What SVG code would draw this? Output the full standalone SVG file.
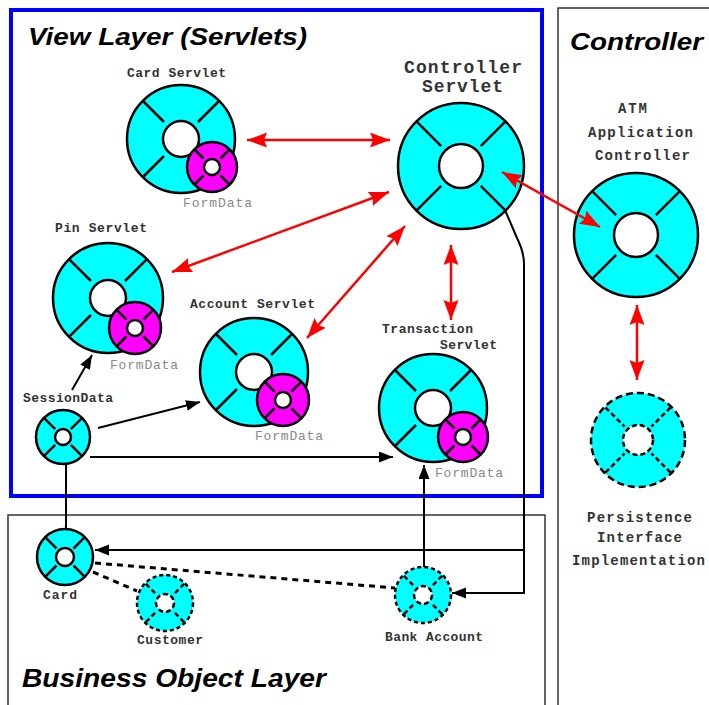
<svg xmlns="http://www.w3.org/2000/svg" width="709" height="705" viewBox="0 0 709 705">
<style>
.bg{fill:#ffffff}
.title{font-family:"Liberation Sans",Arial,sans-serif;font-weight:bold;font-style:italic;fill:#000}
.lbl{font-family:"Liberation Mono","Courier New",monospace;font-size:13px;font-weight:bold;fill:#333}
.big{font-size:18px;fill:#333}
.mid{font-size:14px}
.fd{font-family:"Liberation Mono","Courier New",monospace;font-size:13px;fill:#888}
.cy{fill:#00ffff;stroke:#000;stroke-width:2.5}
.mg{fill:#ff00ff;stroke:#000;stroke-width:2.5}
.hole{fill:#fff;stroke:#000;stroke-width:2.5}
.sp{fill:none;stroke:#000;stroke-width:2.5}
.dcy{fill:#00ffff;stroke:#000;stroke-width:2.5;stroke-dasharray:7 4}
.dhole{fill:#fff;stroke:#000;stroke-width:2.5;stroke-dasharray:5 3}
.dsp{fill:none;stroke:#000;stroke-width:2.5;stroke-dasharray:5 3}
.scy{fill:#00ffff;stroke:#000;stroke-width:2.5;stroke-dasharray:4 3}
.red{fill:none;stroke:#ff0000;stroke-width:2.5;marker-start:url(#ra);marker-end:url(#ra)}
.blk{fill:none;stroke:#000;stroke-width:2}
.dsh{fill:none;stroke:#000;stroke-width:3;stroke-dasharray:6 5}
</style>
<defs>
<marker id="ra" markerUnits="userSpaceOnUse" markerWidth="22" markerHeight="16" refX="20" refY="7.5" orient="auto-start-reverse">
<path d="M0,0 L20,7.5 L0,15 L3,7.5 z" fill="#ff0000"/>
</marker>
<marker id="ba" markerUnits="userSpaceOnUse" markerWidth="16" markerHeight="12" refX="14" refY="5.5" orient="auto">
<path d="M0,0 L14,5.5 L0,11 z" fill="#000"/>
</marker>
</defs>
<rect class="bg" x="0" y="0" width="709" height="705"/>

<g id="layers">
<rect x="11" y="10" width="531" height="486" fill="none" stroke="#0000ff" stroke-width="4"/>
<rect x="558" y="8" width="200" height="720" fill="none" stroke="#333" stroke-width="1.5"/>
<rect x="8" y="515" width="537" height="220" fill="none" stroke="#333" stroke-width="1.5"/>
<text class="title" x="28" y="45" font-size="24" textLength="279" lengthAdjust="spacingAndGlyphs">View Layer (Servlets)</text>
<text class="title" x="570" y="50" font-size="24" textLength="133" lengthAdjust="spacingAndGlyphs">Controller</text>
<text class="title" x="22" y="687" font-size="25" textLength="304" lengthAdjust="spacingAndGlyphs">Business Object Layer</text>
</g>

<g id="card-servlet">
<circle class="cy" cx="181" cy="139" r="54"/>
<circle class="hole" cx="181" cy="139" r="18"/>
<path class="sp" d="M143.5,101.5L164,122M218.5,101.5L198,122M143.5,176.5L164,156M218.5,176.5L198,156"/>
<circle class="mg" cx="212" cy="167" r="25"/>
<circle class="hole" cx="212" cy="167" r="8"/>
<path class="sp" d="M195,150L203.5,158.5M229,150L220.5,158.5M195,184L203.5,175.5M229,184L220.5,175.5"/>
<text class="lbl" x="127" y="77" textLength="99">Card Servlet</text>
<text class="fd" x="183" y="207" textLength="69">FormData</text>
</g>

<g id="controller-servlet">
<circle class="cy" cx="461" cy="166" r="63"/>
<circle class="hole" cx="461" cy="166" r="22"/>
<path class="sp" d="M417.2,122.2L441.2,146.2M504.8,122.2L480.8,146.2M417.2,209.8L441.2,185.8M504.8,209.8L480.8,185.8"/>
<text class="lbl big" x="404" y="73" textLength="118">Controller</text>
<text class="lbl big" x="422" y="92" textLength="81">Servlet</text>
</g>

<g id="pin-servlet">
<circle class="cy" cx="108" cy="298" r="55"/>
<circle class="hole" cx="108" cy="298" r="18"/>
<path class="sp" d="M69.8,259.8L91,281M146.2,259.8L125,281M69.8,336.2L91,315M146.2,336.2L125,315"/>
<circle class="mg" cx="135" cy="328" r="26"/>
<circle class="hole" cx="135" cy="328" r="8"/>
<path class="sp" d="M117.3,310.3L126.5,319.5M152.7,310.3L143.5,319.5M117.3,345.7L126.5,336.5M152.7,345.7L143.5,336.5"/>
<text class="lbl" x="55" y="232" textLength="92">Pin Servlet</text>
<text class="fd" x="110" y="369" textLength="68">FormData</text>
</g>

<g id="account-servlet">
<circle class="cy" cx="254" cy="372" r="54"/>
<circle class="hole" cx="254" cy="372" r="18"/>
<path class="sp" d="M216.5,334.5L237,355M291.5,334.5L271,355M216.5,409.5L237,389M291.5,409.5L271,389"/>
<circle class="mg" cx="283" cy="400" r="26"/>
<circle class="hole" cx="283" cy="400" r="8"/>
<path class="sp" d="M265.3,382.3L274.5,391.5M300.7,382.3L291.5,391.5M265.3,417.7L274.5,408.5M300.7,417.7L291.5,408.5"/>
<text class="lbl" x="190" y="308" textLength="125">Account Servlet</text>
<text class="fd" x="255" y="440" textLength="68">FormData</text>
</g>

<g id="transaction-servlet">
<circle class="cy" cx="433" cy="408" r="54"/>
<circle class="hole" cx="433" cy="408" r="18"/>
<path class="sp" d="M395.5,370.5L416,391M470.5,370.5L450,391M395.5,445.5L416,425M470.5,445.5L450,425"/>
<circle class="mg" cx="463" cy="437" r="25"/>
<circle class="hole" cx="463" cy="437" r="8"/>
<path class="sp" d="M446,420L454.5,428.5M480,420L471.5,428.5M446,454L454.5,445.5M480,454L471.5,445.5"/>
<text class="lbl" x="382" y="333" textLength="91">Transaction</text>
<text class="lbl" x="440" y="349" textLength="57">Servlet</text>
<text class="fd" x="435" y="477" textLength="68">FormData</text>
</g>

<g id="session-data">
<circle class="cy" cx="63" cy="437" r="27"/>
<circle class="hole" cx="63" cy="437" r="8"/>
<path class="sp" d="M44.6,418.6L55.2,429.2M81.4,418.6L70.8,429.2M44.6,455.4L55.2,444.8M81.4,455.4L70.8,444.8"/>
<text class="lbl" x="23" y="402" textLength="90">SessionData</text>
</g>

<g id="atm-controller">
<circle class="cy" cx="636" cy="235" r="62"/>
<circle class="hole" cx="636" cy="235" r="22"/>
<path class="sp" d="M592.9,191.9L616.2,215.2M679.1,191.9L655.8,215.2M592.9,278.1L616.2,254.8M679.1,278.1L655.8,254.8"/>
<text class="lbl mid" x="618" y="113" textLength="29">ATM</text>
<text class="lbl mid" x="588" y="137" textLength="105">Application</text>
<text class="lbl mid" x="595" y="160" textLength="95">Controller</text>
</g>

<g id="persistence">
<circle class="dcy" cx="638" cy="440" r="47"/>
<circle class="dhole" cx="638" cy="440" r="15"/>
<path class="dsp" d="M605.5,407.5L624.6,426.6M670.5,407.5L651.4,426.6M605.5,472.5L624.6,453.4M670.5,472.5L651.4,453.4"/>
<text class="lbl mid" x="587" y="522" textLength="105">Persistence</text>
<text class="lbl mid" x="597" y="542" textLength="85">Interface</text>
<text class="lbl mid" x="572" y="565" textLength="133">Implementation</text>
</g>

<g id="card">
<circle class="cy" cx="65" cy="557" r="28"/>
<circle class="hole" cx="65" cy="557" r="9"/>
<path class="sp" d="M45.9,537.9L56.5,548.5M84.1,537.9L73.5,548.5M45.9,576.1L56.5,565.5M84.1,576.1L73.5,565.5"/>
<text class="lbl" x="43" y="599" textLength="34">Card</text>
</g>

<g id="customer">
<circle class="scy" cx="165" cy="603" r="28"/>
<circle class="dhole" cx="165" cy="603" r="9"/>
<path class="dsp" d="M145.9,583.9L156.5,594.5M184.1,583.9L173.5,594.5M145.9,622.1L156.5,611.5M184.1,622.1L173.5,611.5"/>
<text class="lbl" x="137" y="644" textLength="66">Customer</text>
</g>

<g id="bank-account">
<circle class="scy" cx="423" cy="595" r="28"/>
<circle class="dhole" cx="423" cy="595" r="9"/>
<path class="dsp" d="M403.9,575.9L414.5,586.5M442.1,575.9L431.5,586.5M403.9,614.1L414.5,603.5M442.1,614.1L431.5,603.5"/>
<text class="lbl" x="385" y="641" textLength="98">Bank Account</text>
</g>

<g id="connectors">
<line class="red" x1="247" y1="140" x2="390" y2="140"/>
<line class="red" x1="389" y1="192" x2="172" y2="272"/>
<line class="red" x1="405" y1="226" x2="307" y2="338"/>
<line class="red" x1="451" y1="245" x2="451" y2="320"/>
<line class="red" x1="502" y1="172" x2="600" y2="227"/>
<line class="red" x1="637" y1="305" x2="637" y2="380"/>
<line class="blk" x1="72" y1="390" x2="92" y2="355" marker-end="url(#ba)"/>
<line class="blk" x1="98" y1="428" x2="200" y2="402" marker-end="url(#ba)"/>
<line class="blk" x1="90" y1="457" x2="393" y2="457" marker-end="url(#ba)"/>
<line class="blk" x1="66" y1="464" x2="66" y2="530"/>
<path class="blk" d="M505,210 L517,238 Q524,252 524,264 V593 H452" marker-end="url(#ba)"/>
<line class="blk" x1="524" y1="550" x2="95" y2="550" marker-end="url(#ba)"/>
<line class="blk" x1="424" y1="567" x2="424" y2="465" marker-end="url(#ba)"/>
<line class="dsh" x1="95" y1="563" x2="395" y2="588"/>
<line class="dsh" x1="93" y1="572" x2="137" y2="591"/>
</g>
</svg>
